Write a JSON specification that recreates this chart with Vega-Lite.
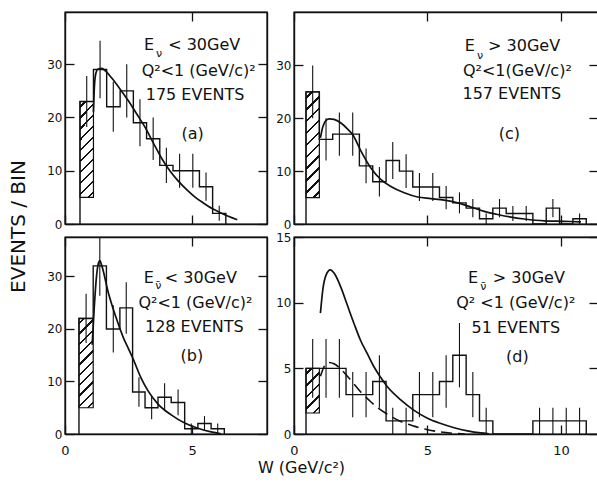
{
"$schema": "https://vega.github.io/schema/vega-lite/v6.json",
"background": "white",
"padding": {"left": 7, "top": 10, "right": 0, "bottom": 0},
"config": {
 "view": {"stroke": "#111", "strokeWidth": 1.4},
 "axis": {"domainColor": "#111", "domainWidth": 1.4, "tickColor": "#111", "tickWidth": 1.3, "tickSize": -9, "labelFont": "DejaVu Sans", "labelFontSize": 13, "labelColor": "#111", "labelFlush": false, "labelOverlap": false, "grid": false, "titleFont": "DejaVu Sans", "titleFontWeight": "normal", "titleColor": "#111"},
 "axisLeft": {"labelPadding": 12, "labelFontSize": 12},
 "axisBottom": {"labelPadding": 19},
 "text": {"font": "DejaVu Sans", "color": "#111"}
},
"datasets": {
 "step_a": [{"x":0.59,"y":0},{"x":0.59,"y":23},{"x":1.12,"y":29},{"x":1.64,"y":22},{"x":2.17,"y":25},{"x":2.69,"y":19},{"x":3.21,"y":16},{"x":3.73,"y":11},{"x":4.25,"y":10},{"x":4.77,"y":10},{"x":5.29,"y":7},{"x":5.81,"y":2},{"x":6.33,"y":0}],
 "err_a": [{"x":0.855,"lo":18.2,"hi":27.8},{"x":1.38,"lo":23.6,"hi":34.4},{"x":1.9,"lo":17.3,"hi":26.7},{"x":2.43,"lo":20,"hi":30},{"x":2.95,"lo":14.6,"hi":23.4},{"x":3.47,"lo":12,"hi":20},{"x":3.99,"lo":7.7,"hi":14.3},{"x":4.51,"lo":6.8,"hi":13.2},{"x":5.03,"lo":6.8,"hi":13.2},{"x":5.55,"lo":4.35,"hi":9.65},{"x":6.07,"lo":0.59,"hi":3.41}],
 "hatch_a": [{"x0":0.59,"x1":1.12,"lo":5,"hi":23}],
 "curve_a": [{"x":1.12,"y":21},{"x":1.16,"y":26},{"x":1.22,"y":28.4},{"x":1.3,"y":29.1},{"x":1.45,"y":29.2},{"x":1.6,"y":28.7},{"x":1.84,"y":27.4},{"x":2.17,"y":25.3},{"x":2.5,"y":23.1},{"x":2.83,"y":20.6},{"x":3.16,"y":18.1},{"x":3.49,"y":15.1},{"x":3.82,"y":12.2},{"x":4.14,"y":9.9},{"x":4.47,"y":8},{"x":4.8,"y":6.4},{"x":5.13,"y":5},{"x":5.46,"y":3.9},{"x":5.79,"y":2.9},{"x":6.12,"y":2.1},{"x":6.45,"y":1.4},{"x":6.78,"y":0.8}],
 "step_b": [{"x":0.55,"y":0},{"x":0.55,"y":22},{"x":1.11,"y":32},{"x":1.63,"y":20},{"x":2.16,"y":24},{"x":2.66,"y":8},{"x":3.15,"y":5},{"x":3.66,"y":7},{"x":4.18,"y":6},{"x":4.71,"y":1},{"x":5.23,"y":2},{"x":5.75,"y":1},{"x":6.27,"y":0}],
 "err_b": [{"x":0.83,"lo":17.3,"hi":26.7},{"x":1.37,"lo":26.3,"hi":37.7},{"x":1.9,"lo":15.5,"hi":24.5},{"x":2.41,"lo":19.1,"hi":28.9},{"x":2.91,"lo":5.2,"hi":10.8},{"x":3.41,"lo":2.8,"hi":7.2},{"x":3.92,"lo":4.35,"hi":9.65},{"x":4.45,"lo":3.55,"hi":8.45},{"x":4.97,"lo":0,"hi":2},{"x":5.49,"lo":0.59,"hi":3.41},{"x":6.01,"lo":0,"hi":2}],
 "hatch_b": [{"x0":0.55,"x1":1.11,"lo":5,"hi":22}],
 "curve_b": [{"x":1.07,"y":17},{"x":1.15,"y":24},{"x":1.24,"y":30},{"x":1.32,"y":32.6},{"x":1.37,"y":33},{"x":1.45,"y":32},{"x":1.7,"y":27},{"x":2.0,"y":22.3},{"x":2.3,"y":18.3},{"x":2.5,"y":16.2},{"x":2.68,"y":14.3},{"x":3.0,"y":10.6},{"x":3.27,"y":8.2},{"x":3.66,"y":5.7},{"x":4.18,"y":3.65},{"x":4.71,"y":2.1},{"x":5.23,"y":1.1},{"x":5.75,"y":0.4},{"x":6.14,"y":0.05}],
 "step_c": [{"x":0.45,"y":0},{"x":0.45,"y":25},{"x":0.95,"y":16},{"x":1.45,"y":17},{"x":1.95,"y":17},{"x":2.45,"y":11},{"x":2.95,"y":8},{"x":3.45,"y":12},{"x":3.95,"y":10},{"x":4.45,"y":7},{"x":4.95,"y":7},{"x":5.45,"y":5},{"x":5.95,"y":4},{"x":6.45,"y":3},{"x":6.95,"y":1},{"x":7.45,"y":3},{"x":7.95,"y":2},{"x":8.45,"y":2},{"x":8.95,"y":0},{"x":9.45,"y":3},{"x":9.95,"y":0},{"x":10.45,"y":1},{"x":10.95,"y":0}],
 "err_c": [{"x":0.7,"lo":20,"hi":30},{"x":1.2,"lo":12,"hi":20},{"x":1.7,"lo":12.9,"hi":21.1},{"x":2.2,"lo":12.9,"hi":21.1},{"x":2.7,"lo":7.7,"hi":14.3},{"x":3.2,"lo":5.2,"hi":10.8},{"x":3.7,"lo":8.5,"hi":15.5},{"x":4.2,"lo":6.8,"hi":13.2},{"x":4.7,"lo":4.35,"hi":9.65},{"x":5.2,"lo":4.35,"hi":9.65},{"x":5.7,"lo":2.8,"hi":7.2},{"x":6.2,"lo":2,"hi":6},{"x":6.7,"lo":1.27,"hi":4.73},{"x":7.2,"lo":0,"hi":2},{"x":7.7,"lo":1.27,"hi":4.73},{"x":8.2,"lo":0.59,"hi":3.41},{"x":8.7,"lo":0.59,"hi":3.41},{"x":9.7,"lo":1.27,"hi":4.73},{"x":10.7,"lo":0,"hi":2}],
 "hatch_c": [{"x0":0.45,"x1":0.95,"lo":5,"hi":25}],
 "curve_c": [{"x":0.99,"y":16.3},{"x":1.08,"y":18.4},{"x":1.2,"y":19.6},{"x":1.32,"y":19.9},{"x":1.5,"y":19.8},{"x":1.76,"y":19.1},{"x":2.0,"y":18.0},{"x":2.2,"y":16.9},{"x":2.51,"y":13.8},{"x":2.88,"y":10.6},{"x":3.26,"y":8.4},{"x":3.63,"y":7.1},{"x":4.13,"y":5.9},{"x":4.63,"y":5.1},{"x":5.13,"y":4.8},{"x":5.63,"y":4.5},{"x":6.13,"y":4.0},{"x":6.63,"y":3.2},{"x":7.13,"y":2.4},{"x":7.63,"y":1.8},{"x":8.13,"y":1.3},{"x":8.63,"y":0.95},{"x":9.38,"y":0.6},{"x":10.12,"y":0.5},{"x":10.75,"y":0.4}],
 "step_d": [{"x":0.45,"y":0},{"x":0.45,"y":5},{"x":0.95,"y":5},{"x":1.45,"y":5},{"x":1.95,"y":3},{"x":2.45,"y":3},{"x":2.95,"y":4},{"x":3.45,"y":1},{"x":3.95,"y":1},{"x":4.45,"y":3},{"x":4.95,"y":3},{"x":5.45,"y":4},{"x":5.95,"y":6},{"x":6.45,"y":3},{"x":6.95,"y":1},{"x":7.45,"y":0},{"x":8.95,"y":1},{"x":9.45,"y":1},{"x":9.95,"y":1},{"x":10.45,"y":1},{"x":10.95,"y":0}],
 "err_d": [{"x":0.7,"lo":2.76,"hi":7.24},{"x":1.2,"lo":2.76,"hi":7.24},{"x":1.7,"lo":2.76,"hi":7.24},{"x":2.2,"lo":1.27,"hi":4.73},{"x":2.7,"lo":1.27,"hi":4.73},{"x":3.2,"lo":2,"hi":6},{"x":3.7,"lo":0,"hi":2},{"x":4.2,"lo":0,"hi":2},{"x":4.7,"lo":1.27,"hi":4.73},{"x":5.2,"lo":1.27,"hi":4.73},{"x":5.7,"lo":2,"hi":6},{"x":6.2,"lo":3.55,"hi":8.45},{"x":6.7,"lo":1.27,"hi":4.73},{"x":7.2,"lo":0,"hi":2},{"x":9.2,"lo":0,"hi":2},{"x":9.7,"lo":0,"hi":2},{"x":10.2,"lo":0,"hi":2},{"x":10.7,"lo":0,"hi":2}],
 "hatch_d": [{"x0":0.45,"x1":0.95,"lo":1.6,"hi":5}],
 "curve_d": [{"x":0.99,"y":9.2},{"x":1.08,"y":11},{"x":1.2,"y":12.1},{"x":1.36,"y":12.5},{"x":1.52,"y":12.2},{"x":1.75,"y":11.2},{"x":2.0,"y":9.8},{"x":2.25,"y":8.4},{"x":2.5,"y":7.1},{"x":2.75,"y":6.1},{"x":3.0,"y":5.1},{"x":3.25,"y":4.3},{"x":3.5,"y":3.6},{"x":4.0,"y":2.6},{"x":4.5,"y":1.8},{"x":5.0,"y":1.2},{"x":5.5,"y":0.8},{"x":6.0,"y":0.48},{"x":6.5,"y":0.24},{"x":7.0,"y":0.08},{"x":7.3,"y":0.02}],
 "dash_d": [{"x":0.99,"y":4.4},{"x":1.12,"y":5.1},{"x":1.3,"y":5.45},{"x":1.5,"y":5.35},{"x":1.75,"y":4.95},{"x":2.0,"y":4.4},{"x":2.25,"y":3.8},{"x":2.5,"y":3.2},{"x":2.8,"y":2.6},{"x":3.1,"y":2.05},{"x":3.5,"y":1.5},{"x":4.0,"y":0.95},{"x":4.5,"y":0.6},{"x":5.0,"y":0.33},{"x":5.5,"y":0.15},{"x":6.0,"y":0.05},{"x":6.4,"y":0}]
},
"columns": 2,
"spacing": {"row": 13, "column": 27},
"bounds": "flush",
"concat": [
  {"width": 202, "height": 212,
   "resolve": {"axis": {"x": "independent", "y": "independent"}},
   "layer": [
    {"data": {"name": "hatch_a"},
     "mark": {"type": "rect", "stroke": "#111", "strokeWidth": 1.2, "fill": {"gradient": "linear", "x1": 0, "y1": 0, "x2": 0.16, "y2": 1.12, "stops": [{"offset":0.039,"color":"#fff"},{"offset":0.039,"color":"#111"},{"offset":0.061,"color":"#111"},{"offset":0.061,"color":"#fff"},{"offset":0.139,"color":"#fff"},{"offset":0.139,"color":"#111"},{"offset":0.161,"color":"#111"},{"offset":0.161,"color":"#fff"},{"offset":0.239,"color":"#fff"},{"offset":0.239,"color":"#111"},{"offset":0.261,"color":"#111"},{"offset":0.261,"color":"#fff"},{"offset":0.339,"color":"#fff"},{"offset":0.339,"color":"#111"},{"offset":0.361,"color":"#111"},{"offset":0.361,"color":"#fff"},{"offset":0.439,"color":"#fff"},{"offset":0.439,"color":"#111"},{"offset":0.461,"color":"#111"},{"offset":0.461,"color":"#fff"},{"offset":0.539,"color":"#fff"},{"offset":0.539,"color":"#111"},{"offset":0.561,"color":"#111"},{"offset":0.561,"color":"#fff"},{"offset":0.639,"color":"#fff"},{"offset":0.639,"color":"#111"},{"offset":0.661,"color":"#111"},{"offset":0.661,"color":"#fff"},{"offset":0.739,"color":"#fff"},{"offset":0.739,"color":"#111"},{"offset":0.761,"color":"#111"},{"offset":0.761,"color":"#fff"},{"offset":0.839,"color":"#fff"},{"offset":0.839,"color":"#111"},{"offset":0.861,"color":"#111"},{"offset":0.861,"color":"#fff"},{"offset":0.939,"color":"#fff"},{"offset":0.939,"color":"#111"},{"offset":0.961,"color":"#111"},{"offset":0.961,"color":"#fff"}]}},
     "encoding": {"x": {"field": "x0", "type": "quantitative", "scale": {"domain": [0, 7.95], "nice": false, "zero": false}, "axis": null}, "x2": {"field": "x1"}, "y": {"field": "lo", "type": "quantitative", "scale": {"domain": [0, 39.8], "nice": false}, "axis": null}, "y2": {"field": "hi"}}},
    {"data": {"name": "step_a"},
     "mark": {"type": "line", "interpolate": "step-after", "color": "#111", "strokeWidth": 1.4, "clip": true},
     "encoding": {"x": {"field": "x", "type": "quantitative", "scale": {"domain": [0, 7.95], "nice": false, "zero": false}, "axis": {"orient": "bottom", "values": [0, 5], "labels": false, "title": null}}, "y": {"field": "y", "type": "quantitative", "scale": {"domain": [0, 39.8], "nice": false}, "axis": {"orient": "left", "values": [0, 10, 20, 30], "title": "EVENTS / BIN", "titleFontSize": 20, "titleAngle": 270, "titleX": -47, "titleY": 214, "titleAlign": "center", "titleBaseline": "middle"}}, "order": {"value": null}}},
    {"data": {"name": "err_a"},
     "mark": {"type": "rule", "color": "#111", "strokeWidth": 1.1, "clip": true},
     "encoding": {"x": {"field": "x", "type": "quantitative", "scale": {"domain": [0, 7.95], "nice": false, "zero": false}, "axis": null}, "y": {"field": "lo", "type": "quantitative", "scale": {"domain": [0, 39.8], "nice": false}, "axis": null}, "y2": {"field": "hi"}}},
    {"data": {"name": "curve_a"},
     "mark": {"type": "line", "interpolate": "monotone", "color": "#111", "strokeWidth": 1.7, "clip": true},
     "encoding": {"x": {"field": "x", "type": "quantitative", "scale": {"domain": [0, 7.95], "nice": false, "zero": false}, "axis": {"orient": "top", "values": [0, 5], "labels": false, "title": null}}, "y": {"field": "y", "type": "quantitative", "scale": {"domain": [0, 39.8], "nice": false}, "axis": {"orient": "right", "values": [0, 10, 20, 30], "labels": false, "title": null}}}},
    {"data": {"values": [{"t":"Q²<1 (GeV/c)²","x":5.26,"y":28.7},{"t":"175 EVENTS","x":5.12,"y":24.3},{"t":"(a)","x":5.02,"y":16.9}]},
     "mark": {"type": "text", "align": "center", "baseline": "middle", "fontSize": 16},
     "encoding": {"x": {"field": "x", "type": "quantitative", "scale": {"domain": [0, 7.95], "nice": false, "zero": false}, "axis": null}, "y": {"field": "y", "type": "quantitative", "scale": {"domain": [0, 39.8], "nice": false}, "axis": null}, "text": {"field": "t"}}},
    {"data": {"values": [{"t":"E","x":3.11,"y":33.6},{"t":"< 30GeV","x":4.06,"y":33.6}]},
     "mark": {"type": "text", "align": "left", "baseline": "middle", "fontSize": 16},
     "encoding": {"x": {"field": "x", "type": "quantitative", "scale": {"domain": [0, 7.95], "nice": false, "zero": false}, "axis": null}, "y": {"field": "y", "type": "quantitative", "scale": {"domain": [0, 39.8], "nice": false}, "axis": null}, "text": {"field": "t"}}},
    {"data": {"values": [{"t":"ν","x":3.58,"y":31.9}]},
     "mark": {"type": "text", "align": "left", "baseline": "middle", "fontSize": 11},
     "encoding": {"x": {"field": "x", "type": "quantitative", "scale": {"domain": [0, 7.95], "nice": false, "zero": false}, "axis": null}, "y": {"field": "y", "type": "quantitative", "scale": {"domain": [0, 39.8], "nice": false}, "axis": null}, "text": {"field": "t"}}}
   ]},
  {"width": 304, "height": 212,
   "resolve": {"axis": {"x": "independent", "y": "independent"}},
   "layer": [
    {"data": {"name": "hatch_c"},
     "mark": {"type": "rect", "stroke": "#111", "strokeWidth": 1.2, "fill": {"gradient": "linear", "x1": 0, "y1": 0, "x2": 0.14, "y2": 1.109, "stops": [{"offset":0.039,"color":"#fff"},{"offset":0.039,"color":"#111"},{"offset":0.061,"color":"#111"},{"offset":0.061,"color":"#fff"},{"offset":0.139,"color":"#fff"},{"offset":0.139,"color":"#111"},{"offset":0.161,"color":"#111"},{"offset":0.161,"color":"#fff"},{"offset":0.239,"color":"#fff"},{"offset":0.239,"color":"#111"},{"offset":0.261,"color":"#111"},{"offset":0.261,"color":"#fff"},{"offset":0.339,"color":"#fff"},{"offset":0.339,"color":"#111"},{"offset":0.361,"color":"#111"},{"offset":0.361,"color":"#fff"},{"offset":0.439,"color":"#fff"},{"offset":0.439,"color":"#111"},{"offset":0.461,"color":"#111"},{"offset":0.461,"color":"#fff"},{"offset":0.539,"color":"#fff"},{"offset":0.539,"color":"#111"},{"offset":0.561,"color":"#111"},{"offset":0.561,"color":"#fff"},{"offset":0.639,"color":"#fff"},{"offset":0.639,"color":"#111"},{"offset":0.661,"color":"#111"},{"offset":0.661,"color":"#fff"},{"offset":0.739,"color":"#fff"},{"offset":0.739,"color":"#111"},{"offset":0.761,"color":"#111"},{"offset":0.761,"color":"#fff"},{"offset":0.839,"color":"#fff"},{"offset":0.839,"color":"#111"},{"offset":0.861,"color":"#111"},{"offset":0.861,"color":"#fff"},{"offset":0.939,"color":"#fff"},{"offset":0.939,"color":"#111"},{"offset":0.961,"color":"#111"},{"offset":0.961,"color":"#fff"}]}},
     "encoding": {"x": {"field": "x0", "type": "quantitative", "scale": {"domain": [0, 11.39], "nice": false, "zero": false}, "axis": null}, "x2": {"field": "x1"}, "y": {"field": "lo", "type": "quantitative", "scale": {"domain": [0, 40.1], "nice": false}, "axis": null}, "y2": {"field": "hi"}}},
    {"data": {"name": "step_c"},
     "mark": {"type": "line", "interpolate": "step-after", "color": "#111", "strokeWidth": 1.4, "clip": true},
     "encoding": {"x": {"field": "x", "type": "quantitative", "scale": {"domain": [0, 11.39], "nice": false, "zero": false}, "axis": {"orient": "bottom", "values": [0, 5, 10], "labels": false, "title": null}}, "y": {"field": "y", "type": "quantitative", "scale": {"domain": [0, 40.1], "nice": false}, "axis": {"orient": "left", "values": [0, 10, 20, 30], "title": null}}, "order": {"value": null}}},
    {"data": {"name": "err_c"},
     "mark": {"type": "rule", "color": "#111", "strokeWidth": 1.1, "clip": true},
     "encoding": {"x": {"field": "x", "type": "quantitative", "scale": {"domain": [0, 11.39], "nice": false, "zero": false}, "axis": null}, "y": {"field": "lo", "type": "quantitative", "scale": {"domain": [0, 40.1], "nice": false}, "axis": null}, "y2": {"field": "hi"}}},
    {"data": {"name": "curve_c"},
     "mark": {"type": "line", "interpolate": "monotone", "color": "#111", "strokeWidth": 1.7, "clip": true},
     "encoding": {"x": {"field": "x", "type": "quantitative", "scale": {"domain": [0, 11.39], "nice": false, "zero": false}, "axis": {"orient": "top", "values": [0, 5, 10], "labels": false, "title": null}}, "y": {"field": "y", "type": "quantitative", "scale": {"domain": [0, 40.1], "nice": false}, "axis": {"orient": "right", "values": [0, 10, 20, 30], "labels": false, "title": null}}}},
    {"data": {"values": [{"t":"Q²<1(GeV/c)²","x":8.37,"y":28.9},{"t":"157 EVENTS","x":8.16,"y":24.6},{"t":"(c)","x":8.07,"y":17}]},
     "mark": {"type": "text", "align": "center", "baseline": "middle", "fontSize": 16},
     "encoding": {"x": {"field": "x", "type": "quantitative", "scale": {"domain": [0, 11.39], "nice": false, "zero": false}, "axis": null}, "y": {"field": "y", "type": "quantitative", "scale": {"domain": [0, 40.1], "nice": false}, "axis": null}, "text": {"field": "t"}}},
    {"data": {"values": [{"t":"E","x":6.4,"y":33.7},{"t":"> 30GeV","x":7.27,"y":33.7}]},
     "mark": {"type": "text", "align": "left", "baseline": "middle", "fontSize": 16},
     "encoding": {"x": {"field": "x", "type": "quantitative", "scale": {"domain": [0, 11.39], "nice": false, "zero": false}, "axis": null}, "y": {"field": "y", "type": "quantitative", "scale": {"domain": [0, 40.1], "nice": false}, "axis": null}, "text": {"field": "t"}}},
    {"data": {"values": [{"t":"ν","x":6.86,"y":31.7}]},
     "mark": {"type": "text", "align": "left", "baseline": "middle", "fontSize": 11},
     "encoding": {"x": {"field": "x", "type": "quantitative", "scale": {"domain": [0, 11.39], "nice": false, "zero": false}, "axis": null}, "y": {"field": "y", "type": "quantitative", "scale": {"domain": [0, 40.1], "nice": false}, "axis": null}, "text": {"field": "t"}}}
   ]},
  {"width": 202, "height": 197,
   "resolve": {"axis": {"x": "independent", "y": "independent"}},
   "layer": [
    {"data": {"name": "hatch_b"},
     "mark": {"type": "rect", "stroke": "#111", "strokeWidth": 1.2, "fill": {"gradient": "linear", "x1": 0, "y1": 0, "x2": 0.18, "y2": 1.13, "stops": [{"offset":0.039,"color":"#fff"},{"offset":0.039,"color":"#111"},{"offset":0.061,"color":"#111"},{"offset":0.061,"color":"#fff"},{"offset":0.139,"color":"#fff"},{"offset":0.139,"color":"#111"},{"offset":0.161,"color":"#111"},{"offset":0.161,"color":"#fff"},{"offset":0.239,"color":"#fff"},{"offset":0.239,"color":"#111"},{"offset":0.261,"color":"#111"},{"offset":0.261,"color":"#fff"},{"offset":0.339,"color":"#fff"},{"offset":0.339,"color":"#111"},{"offset":0.361,"color":"#111"},{"offset":0.361,"color":"#fff"},{"offset":0.439,"color":"#fff"},{"offset":0.439,"color":"#111"},{"offset":0.461,"color":"#111"},{"offset":0.461,"color":"#fff"},{"offset":0.539,"color":"#fff"},{"offset":0.539,"color":"#111"},{"offset":0.561,"color":"#111"},{"offset":0.561,"color":"#fff"},{"offset":0.639,"color":"#fff"},{"offset":0.639,"color":"#111"},{"offset":0.661,"color":"#111"},{"offset":0.661,"color":"#fff"},{"offset":0.739,"color":"#fff"},{"offset":0.739,"color":"#111"},{"offset":0.761,"color":"#111"},{"offset":0.761,"color":"#fff"},{"offset":0.839,"color":"#fff"},{"offset":0.839,"color":"#111"},{"offset":0.861,"color":"#111"},{"offset":0.861,"color":"#fff"},{"offset":0.939,"color":"#fff"},{"offset":0.939,"color":"#111"},{"offset":0.961,"color":"#111"},{"offset":0.961,"color":"#fff"}]}},
     "encoding": {"x": {"field": "x0", "type": "quantitative", "scale": {"domain": [0, 7.95], "nice": false, "zero": false}, "axis": null}, "x2": {"field": "x1"}, "y": {"field": "lo", "type": "quantitative", "scale": {"domain": [0, 37.5], "nice": false}, "axis": null}, "y2": {"field": "hi"}}},
    {"data": {"name": "step_b"},
     "mark": {"type": "line", "interpolate": "step-after", "color": "#111", "strokeWidth": 1.4, "clip": true},
     "encoding": {"x": {"field": "x", "type": "quantitative", "scale": {"domain": [0, 7.95], "nice": false, "zero": false}, "axis": {"orient": "bottom", "values": [0, 5], "title": "W (GeV/c²)", "titleFontSize": 16, "titleX": 236, "titleY": 33, "titleAlign": "center", "titleBaseline": "middle"}}, "y": {"field": "y", "type": "quantitative", "scale": {"domain": [0, 37.5], "nice": false}, "axis": {"orient": "left", "values": [0, 10, 20, 30], "title": null}}, "order": {"value": null}}},
    {"data": {"name": "err_b"},
     "mark": {"type": "rule", "color": "#111", "strokeWidth": 1.1, "clip": true},
     "encoding": {"x": {"field": "x", "type": "quantitative", "scale": {"domain": [0, 7.95], "nice": false, "zero": false}, "axis": null}, "y": {"field": "lo", "type": "quantitative", "scale": {"domain": [0, 37.5], "nice": false}, "axis": null}, "y2": {"field": "hi"}}},
    {"data": {"name": "curve_b"},
     "mark": {"type": "line", "interpolate": "monotone", "color": "#111", "strokeWidth": 1.7, "clip": true},
     "encoding": {"x": {"field": "x", "type": "quantitative", "scale": {"domain": [0, 7.95], "nice": false, "zero": false}, "axis": {"orient": "top", "values": [0, 5], "labels": false, "title": null}}, "y": {"field": "y", "type": "quantitative", "scale": {"domain": [0, 37.5], "nice": false}, "axis": {"orient": "right", "values": [0, 10, 20, 30], "labels": false, "title": null}}}},
    {"data": {"values": [{"t":"Q²<1 (GeV/c)²","x":5.13,"y":25.0},{"t":"128 EVENTS","x":5.09,"y":20.3},{"t":"(b)","x":4.99,"y":14.8}]},
     "mark": {"type": "text", "align": "center", "baseline": "middle", "fontSize": 16},
     "encoding": {"x": {"field": "x", "type": "quantitative", "scale": {"domain": [0, 7.95], "nice": false, "zero": false}, "axis": null}, "y": {"field": "y", "type": "quantitative", "scale": {"domain": [0, 37.5], "nice": false}, "axis": null}, "text": {"field": "t"}}},
    {"data": {"values": [{"t":"E","x":3.1,"y":29.7},{"t":"< 30GeV","x":3.93,"y":29.7}]},
     "mark": {"type": "text", "align": "left", "baseline": "middle", "fontSize": 16},
     "encoding": {"x": {"field": "x", "type": "quantitative", "scale": {"domain": [0, 7.95], "nice": false, "zero": false}, "axis": null}, "y": {"field": "y", "type": "quantitative", "scale": {"domain": [0, 37.5], "nice": false}, "axis": null}, "text": {"field": "t"}}},
    {"data": {"values": [{"t":"\u03bd\u0304","x":3.55,"y":28.2}]},
     "mark": {"type": "text", "align": "left", "baseline": "middle", "fontSize": 11},
     "encoding": {"x": {"field": "x", "type": "quantitative", "scale": {"domain": [0, 7.95], "nice": false, "zero": false}, "axis": null}, "y": {"field": "y", "type": "quantitative", "scale": {"domain": [0, 37.5], "nice": false}, "axis": null}, "text": {"field": "t"}}}
   ]},
  {"width": 304, "height": 197,
   "resolve": {"axis": {"x": "independent", "y": "independent"}},
   "layer": [
    {"data": {"name": "hatch_d"},
     "mark": {"type": "rect", "stroke": "#111", "strokeWidth": 1.2, "fill": {"gradient": "linear", "x1": 0, "y1": 0, "x2": 0.354, "y2": 1.192, "stops": [{"offset":0.078,"color":"#fff"},{"offset":0.078,"color":"#111"},{"offset":0.122,"color":"#111"},{"offset":0.122,"color":"#fff"},{"offset":0.278,"color":"#fff"},{"offset":0.278,"color":"#111"},{"offset":0.322,"color":"#111"},{"offset":0.322,"color":"#fff"},{"offset":0.478,"color":"#fff"},{"offset":0.478,"color":"#111"},{"offset":0.522,"color":"#111"},{"offset":0.522,"color":"#fff"},{"offset":0.678,"color":"#fff"},{"offset":0.678,"color":"#111"},{"offset":0.722,"color":"#111"},{"offset":0.722,"color":"#fff"},{"offset":0.878,"color":"#fff"},{"offset":0.878,"color":"#111"},{"offset":0.922,"color":"#111"},{"offset":0.922,"color":"#fff"}]}},
     "encoding": {"x": {"field": "x0", "type": "quantitative", "scale": {"domain": [0, 11.39], "nice": false, "zero": false}, "axis": null}, "x2": {"field": "x1"}, "y": {"field": "lo", "type": "quantitative", "scale": {"domain": [0, 15], "nice": false}, "axis": null}, "y2": {"field": "hi"}}},
    {"data": {"name": "step_d"},
     "mark": {"type": "line", "interpolate": "step-after", "color": "#111", "strokeWidth": 1.4, "clip": true},
     "encoding": {"x": {"field": "x", "type": "quantitative", "scale": {"domain": [0, 11.39], "nice": false, "zero": false}, "axis": {"orient": "bottom", "values": [0, 5, 10], "title": null}}, "y": {"field": "y", "type": "quantitative", "scale": {"domain": [0, 15], "nice": false}, "axis": {"orient": "left", "values": [0, 5, 10, 15], "title": null}}, "order": {"value": null}}},
    {"data": {"name": "err_d"},
     "mark": {"type": "rule", "color": "#111", "strokeWidth": 1.1, "clip": true},
     "encoding": {"x": {"field": "x", "type": "quantitative", "scale": {"domain": [0, 11.39], "nice": false, "zero": false}, "axis": null}, "y": {"field": "lo", "type": "quantitative", "scale": {"domain": [0, 15], "nice": false}, "axis": null}, "y2": {"field": "hi"}}},
    {"data": {"name": "curve_d"},
     "mark": {"type": "line", "interpolate": "monotone", "color": "#111", "strokeWidth": 1.7, "clip": true},
     "encoding": {"x": {"field": "x", "type": "quantitative", "scale": {"domain": [0, 11.39], "nice": false, "zero": false}, "axis": {"orient": "top", "values": [0, 5, 10], "labels": false, "title": null}}, "y": {"field": "y", "type": "quantitative", "scale": {"domain": [0, 15], "nice": false}, "axis": {"orient": "right", "values": [0, 5, 10, 15], "labels": false, "title": null}}}},
    {"data": {"name": "dash_d"},
     "mark": {"type": "line", "interpolate": "monotone", "color": "#111", "strokeWidth": 1.6, "strokeDash": [11, 6], "clip": true},
     "encoding": {"x": {"field": "x", "type": "quantitative", "scale": {"domain": [0, 11.39], "nice": false, "zero": false}, "axis": null}, "y": {"field": "y", "type": "quantitative", "scale": {"domain": [0, 15], "nice": false}, "axis": null}}},
    {"data": {"values": [{"t":"Q² <1 (GeV/c)²","x":8.31,"y":10.0},{"t":"51 EVENTS","x":8.31,"y":8.1},{"t":"(d)","x":8.37,"y":5.9}]},
     "mark": {"type": "text", "align": "center", "baseline": "middle", "fontSize": 16},
     "encoding": {"x": {"field": "x", "type": "quantitative", "scale": {"domain": [0, 11.39], "nice": false, "zero": false}, "axis": null}, "y": {"field": "y", "type": "quantitative", "scale": {"domain": [0, 15], "nice": false}, "axis": null}, "text": {"field": "t"}}},
    {"data": {"values": [{"t":"E","x":6.52,"y":11.86},{"t":"> 30GeV","x":7.45,"y":11.86}]},
     "mark": {"type": "text", "align": "left", "baseline": "middle", "fontSize": 16},
     "encoding": {"x": {"field": "x", "type": "quantitative", "scale": {"domain": [0, 11.39], "nice": false, "zero": false}, "axis": null}, "y": {"field": "y", "type": "quantitative", "scale": {"domain": [0, 15], "nice": false}, "axis": null}, "text": {"field": "t"}}},
    {"data": {"values": [{"t":"\u03bd\u0304","x":6.98,"y":11.2}]},
     "mark": {"type": "text", "align": "left", "baseline": "middle", "fontSize": 11},
     "encoding": {"x": {"field": "x", "type": "quantitative", "scale": {"domain": [0, 11.39], "nice": false, "zero": false}, "axis": null}, "y": {"field": "y", "type": "quantitative", "scale": {"domain": [0, 15], "nice": false}, "axis": null}, "text": {"field": "t"}}}
   ]}
]
}
